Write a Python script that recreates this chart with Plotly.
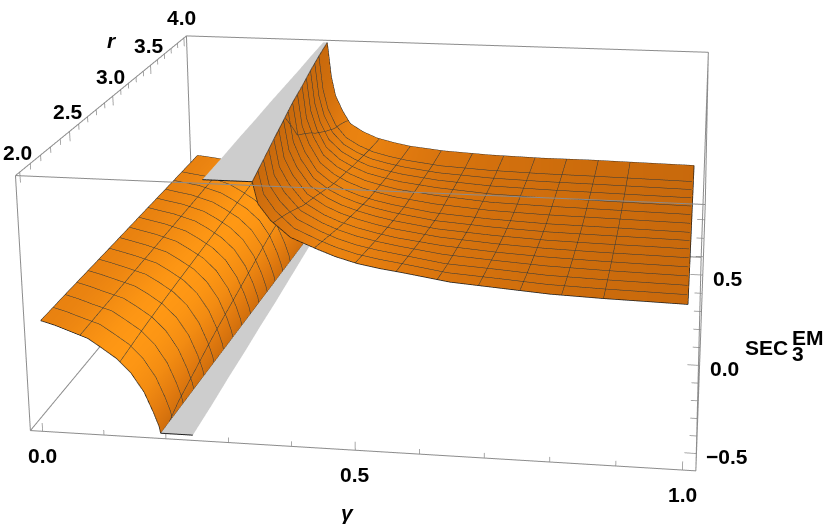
import plotly.graph_objects as go

# plot range of the box
gamma_range = [-0.02, 1.02]
r_range = [1.96, 4.04]
z_range = [-0.6, 0.8821]

r_rows = [2.0, 2.25, 2.5, 2.75, 3.0, 3.25, 3.5, 3.75, 4.0]

# part of the surface left of the pole, one row per r
left_gamma = [
    [0, .022, .044, .075, .096, .120, .142, .162, .176, .184, .186],
    [0, .022, .045, .077, .099, .124, .146, .166, .180, .188, .190],
    [0, .022, .046, .080, .102, .127, .150, .170, .184, .192, .194],
    [0, .022, .047, .083, .105, .131, .154, .174, .188, .196, .198],
    [0, .022, .048, .086, .108, .135, .158, .178, .192, .200, .202],
    [0, .022, .049, .089, .112, .138, .162, .182, .196, .204, .206],
    [0, .022, .050, .092, .115, .142, .166, .186, .200, .208, .210],
    [0, .022, .050, .095, .118, .145, .170, .190, .204, .212, .214],
    [0, .022, .050, .098, .122, .149, .174, .194, .208, .216, .218],
]
left_z = [
    [.030, .008, -.020, -.060, -.110, -.170, -.250, -.360, -.480, -.560, -.600],
    [.030, .008, -.020, -.055, -.105, -.165, -.245, -.355, -.475, -.560, -.600],
    [.028, .008, -.018, -.055, -.100, -.160, -.240, -.350, -.470, -.560, -.600],
    [.026, .007, -.016, -.055, -.100, -.160, -.240, -.350, -.470, -.560, -.600],
    [.025, .007, -.014, -.055, -.100, -.160, -.240, -.350, -.470, -.560, -.600],
    [.024, .007, -.012, -.055, -.100, -.160, -.240, -.350, -.470, -.560, -.600],
    [.022, .007, -.010, -.055, -.100, -.160, -.240, -.350, -.470, -.560, -.600],
    [.021, .009, -.005, -.055, -.100, -.160, -.240, -.350, -.470, -.560, -.600],
    [.020, .012, .000, -.055, -.100, -.160, -.240, -.350, -.470, -.560, -.600],
]

# part of the surface right of the pole
right_gamma = [
    [.344, .352, .371, .401, .442, .470, .503, .537, .573, .645, .720, .795, .875, .940, 1],
    [.334, .342, .359, .386, .423, .450, .480, .514, .550, .620, .705, .780, .870, .935, 1],
    [.324, .332, .347, .372, .405, .431, .460, .492, .525, .600, .690, .770, .860, .930, 1],
    [.314, .322, .335, .358, .387, .412, .440, .469, .500, .575, .670, .760, .850, .925, 1],
    [.304, .312, .324, .345, .370, .393, .420, .449, .480, .550, .650, .750, .840, .920, 1],
    [.296, .303, .315, .333, .358, .382, .410, .440, .470, .540, .640, .740, .830, .915, 1],
    [.287, .294, .304, .320, .344, .368, .395, .427, .460, .525, .625, .725, .820, .910, 1],
    [.279, .286, .295, .310, .330, .355, .383, .415, .448, .515, .610, .710, .810, .905, 1],
    [.272, .279, .287, .301, .316, .342, .371, .404, .437, .505, .600, .700, .800, .900, 1],
]
right_z = [
    [.8821, .760, .670, .580, .520, .483, .450, .428, .410, .370, .350, .330, .320, .315, .310],
    [.8821, .740, .645, .545, .480, .442, .410, .385, .365, .325, .305, .285, .275, .270, .265],
    [.8821, .720, .620, .510, .440, .402, .370, .343, .320, .285, .260, .245, .235, .230, .225],
    [.8821, .700, .595, .480, .410, .368, .335, .308, .285, .245, .220, .205, .198, .195, .190],
    [.8821, .680, .570, .450, .380, .337, .300, .273, .250, .210, .185, .170, .165, .160, .155],
    [.8821, .670, .550, .430, .355, .310, .270, .243, .220, .190, .160, .150, .145, .140, .135],
    [.8821, .660, .530, .415, .335, .287, .245, .218, .195, .165, .140, .130, .125, .120, .115],
    [.8821, .650, .515, .400, .315, .262, .220, .192, .170, .140, .122, .113, .110, .105, .100],
    [.8821, .640, .500, .390, .300, .243, .200, .172, .150, .125, .108, .100, .100, .095, .090],
]

# clipped strips, edges in gamma per r row
bottom_clip_right = [.238, .238, .237, .237, .236, .236, .235, .234, .233]
top_clip_left = [.267, .267, .266, .266, .265, .265, .265, .264, .264]

# shading across the columns of each piece (the reference is lit, these stand in for that)
left_shade = [.62, .65, .72, .85, .95, 1, .95, .8, .55, .35, .25]
right_shade = [.15, .25, .35, .5, .62, .65, .62, .55, .48, .38, .3, .25, .2, .18, .15]

gamma_ticks = [0, .1, .2, .3, .4, .5, .6, .7, .8, .9, 1]
gamma_labels = {0: "0.0", .5: "0.5", 1: "1.0"}
r_ticks = [2, 2.1, 2.2, 2.3, 2.4, 2.5, 2.6, 2.7, 2.8, 2.9, 3, 3.1, 3.2, 3.3, 3.4, 3.5, 3.6, 3.7, 3.8, 3.9, 4]
r_labels = {2: "2.0", 2.5: "2.5", 3: "3.0", 3.5: "3.5", 4: "4.0"}
z_ticks = [-.5, -.4, -.3, -.2, -.1, 0, .1, .2, .3, .4, .5, .6, .7, .8]
z_labels = {-.5: "\u22120.5", 0: "0.0", .5: "0.5"}

FONT = "Liberation Sans"
BOX = "#8c8c8c"
MESH = "#2b363d"
EDGE = "#1c1c1c"
ORANGES = [[0, "rgb(190,98,10)"], [.5, "rgb(225,122,15)"], [1, "rgb(255,152,20)"]]
UNLIT = dict(ambient=1, diffuse=0, specular=0, roughness=1, fresnel=0)
g0, g1 = gamma_range
r0, r1 = r_range
z0, z1 = z_range


def branch(gamma, z, shade):
    return go.Surface(
        x=gamma, y=[[r] * len(gamma[0]) for r in r_rows], z=z,
        surfacecolor=[shade for r in r_rows], cmin=0, cmax=1,
        colorscale=ORANGES, showscale=False, hoverinfo="skip", lighting=UNLIT,
        contours=dict(
            x=dict(show=True, start=.0625, end=.9375, size=.0625, color=MESH, width=1.3, highlight=False),
            y=dict(show=True, start=2.125, end=3.875, size=.125, color=MESH, width=1.3, highlight=False),
            z=dict(show=False, highlight=False),
        ),
    )


def strip(left, right, z):
    return go.Surface(
        x=[[a, b] for a, b in zip(left, right)],
        y=[[r, r] for r in r_rows],
        z=[[z, z] for r in r_rows],
        colorscale=[[0, "#cdcdcd"], [1, "#cdcdcd"]], showscale=False, hoverinfo="skip", lighting=UNLIT,
    )


def polyline(xs, ys, zs, color, width):
    return go.Scatter3d(x=xs, y=ys, z=zs, mode="lines", line=dict(color=color, width=width),
                        hoverinfo="skip", showlegend=False)


fig = go.Figure()
fig.add_trace(branch(left_gamma, left_z, left_shade))
fig.add_trace(branch(right_gamma, right_z, right_shade))
fig.add_trace(strip([row[-1] for row in left_gamma], bottom_clip_right, z0))
fig.add_trace(strip(top_clip_left, [row[0] for row in right_gamma], z1))

# dark outline of the surface pieces
for gamma, z in ((left_gamma, left_z), (right_gamma, right_z)):
    fig.add_trace(polyline(gamma[0], [r_rows[0]] * len(gamma[0]), z[0], EDGE, 1.5))
    fig.add_trace(polyline(gamma[-1], [r_rows[-1]] * len(gamma[-1]), z[-1], EDGE, 1.5))
    fig.add_trace(polyline([row[0] for row in gamma], r_rows, [row[0] for row in z], EDGE, 1.5))
    fig.add_trace(polyline([row[-1] for row in gamma], r_rows, [row[-1] for row in z], EDGE, 1.5))
fig.add_trace(polyline([left_gamma[0][-1], bottom_clip_right[0]], [2, 2], [z0, z0], EDGE, 2))
fig.add_trace(polyline([top_clip_left[0], right_gamma[0][0]], [2, 2], [z1, z1], EDGE, 2))

# box edges
bx, by, bz = [], [], []
for a in (g0, g1):
    for b in (r0, r1):
        bx += [a, a, None]
        by += [b, b, None]
        bz += [z0, z1, None]
    for c in (z0, z1):
        bx += [a, a, None]
        by += [r0, r1, None]
        bz += [c, c, None]
for b in (r0, r1):
    for c in (z0, z1):
        bx += [g0, g1, None]
        by += [b, b, None]
        bz += [c, c, None]
fig.add_trace(polyline(bx, by, bz, BOX, 2))

# tick marks, longer on the labelled ones
tx, ty, tz = [], [], []
for t in gamma_ticks:
    tx += [t, t, None]
    ty += [r0, r0, None]
    tz += [z0, z0 + (.05 if t in gamma_labels else .03), None]
for t in r_ticks:
    tx += [g0, g0, None]
    ty += [t, t, None]
    tz += [z1, z1 - (.06 if t in r_labels else .035), None]
for t in z_ticks:
    tx += [g1, g1 - (.018 if t in z_labels else .011), None]
    ty += [r0, r0, None]
    tz += [t, t, None]
fig.add_trace(polyline(tx, ty, tz, BOX, 1.5))


def label(x, y, z, text, dx, dy, size=21):
    return dict(x=x, y=y, z=z, text=text, showarrow=False, xshift=dx, yshift=-dy,
                xanchor="center", yanchor="middle", font=dict(family=FONT, size=size, color="black"))


notes = []
for t, s in gamma_labels.items():
    notes.append(label(t, r0, z0, "<b>%s</b>" % s, 0, 24))
for t, s in r_labels.items():
    notes.append(label(g0, t, z1, "<b>%s</b>" % s, -2, -20))
for t, s in z_labels.items():
    notes.append(label(g1, r0, t, "<b>%s</b>" % s, 31 if t < 0 else 25, 3))
notes.append(label(.5, r0, z0, "<b><i>\u03b3</i></b>", -8, 62))
notes.append(label(g0, 3.5, z1, "<b><i>r</i></b>", -39, -25))
notes.append(label(g1, r0, 0, "<b>SEC</b>", 67, -18))
notes.append(label(g1, r0, 0, "<b>EM</b>", 108, -28))
notes.append(label(g1, r0, 0, "<b>3</b>", 98, -12))

# axis ranges a hair wider than the box, otherwise things lying on the box faces get clipped
axis = dict(visible=False, autorange=False)
fig.update_layout(
    width=892, height=1571, margin=dict(l=0, r=0, t=0, b=0),
    paper_bgcolor="white", showlegend=False,
    scene=dict(
        domain=dict(x=[0, 1], y=[0, 1]),
        xaxis=dict(axis, range=[g0 - .001, g1 + .001]),
        yaxis=dict(axis, range=[r0 - .002, r1 + .002]),
        zaxis=dict(axis, range=[z0 - .002, z1 + .002]),
        aspectmode="manual",
        aspectratio=dict(x=1, y=0.93, z=0.4038),
        camera=dict(
            eye=dict(x=0.4875, y=-3.0022, z=1.0125),
            center=dict(x=-0.0595, y=0.9404, z=0),
            up=dict(x=0, y=0, z=1),
            projection=dict(type="perspective"),
        ),
        annotations=notes,
    ),
)

# long lens: the plot is taller than the window, slide it up so the box sits where it should
shift = ("var g=document.getElementById('{plot_id}');g.style.position='absolute';"
         "g.style.left='0px';g.style.top='-701px';document.body.style.overflow='hidden';")
fig.write_html("out.html", post_script=shift)
